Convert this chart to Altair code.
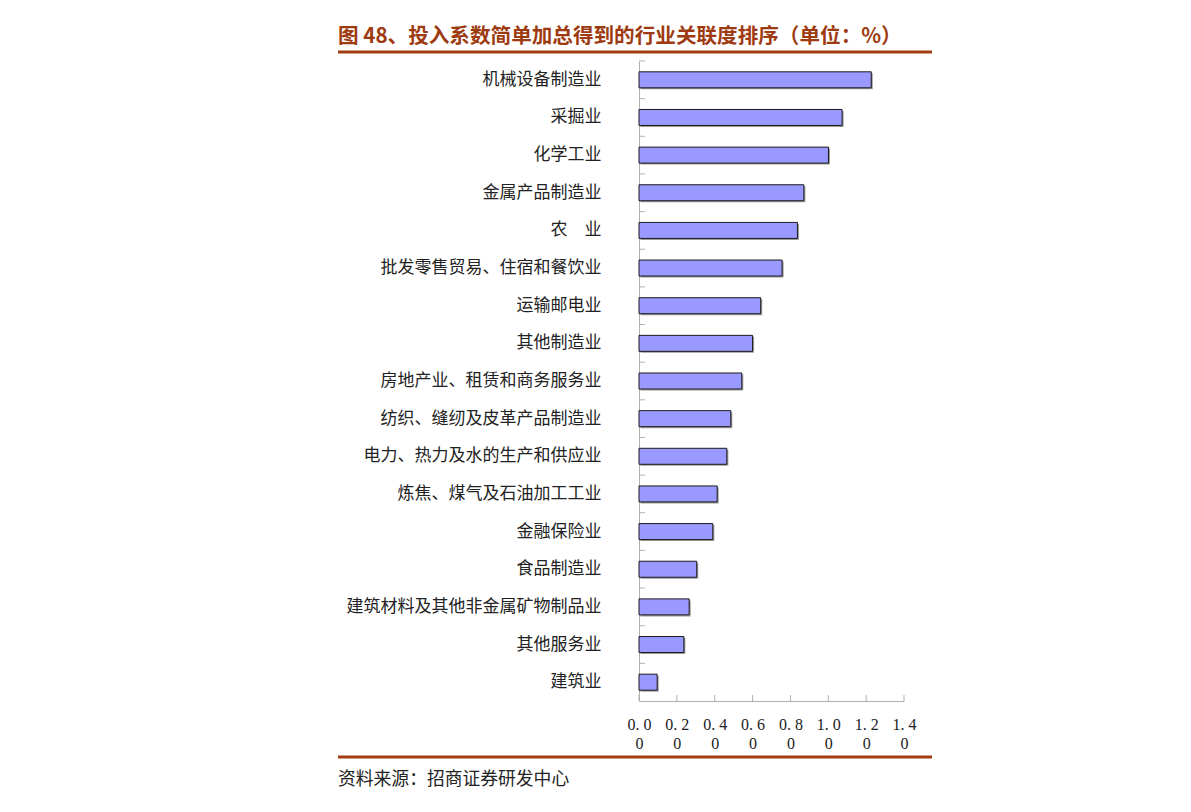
import altair as alt
import pandas as pd

categories = ["机械设备制造业", "采掘业", "化学工业", "金属产品制造业", "农　业",
              "批发零售贸易、住宿和餐饮业", "运输邮电业", "其他制造业",
              "房地产业、租赁和商务服务业", "纺织、缝纫及皮革产品制造业",
              "电力、热力及水的生产和供应业", "炼焦、煤气及石油加工工业",
              "金融保险业", "食品制造业", "建筑材料及其他非金属矿物制品业",
              "其他服务业", "建筑业"]
values = [1.227, 1.073, 1.001, 0.871, 0.837, 0.756, 0.643, 0.600, 0.543,
          0.485, 0.464, 0.413, 0.390, 0.305, 0.265, 0.237, 0.096]
x_ticks = [0.0, 0.2, 0.4, 0.6, 0.8, 1.0, 1.2, 1.4]
title_text = "图 48、投入系数简单加总得到的行业关联度排序（单位：%）"
source_text = "资料来源：招商证券研发中心"

df = pd.DataFrame({"cat": categories, "val": values})
ticks_df = pd.DataFrame({"t": x_ticks})

CJK = "Noto Sans CJK SC"
BROWN = "#A23C12"

xscale = alt.Scale(domain=[0, 1.4], nice=False, zero=True)
yscale = alt.Scale(domain=categories, paddingInner=0, paddingOuter=0)

x_axis = alt.Axis(values=x_ticks, ticks=False, tickSize=0, grid=False,
                  domainColor="#b0b0b0", domainWidth=1,
                  labelExpr="[replace(format(datum.value, '.1f'), '.', '. '), '0']",
                  labelFont="Liberation Serif", labelFontSize=16, labelColor="#222",
                  labelLineHeight=19, labelPadding=15, labelAngle=0,
                  labelOverlap=False, labelFlush=False, labelAlign="center",
                  labelBound=False)
y_axis = alt.Axis(ticks=False, tickSize=0, domainColor="#b0b0b0", domainWidth=1,
                  labelFont=CJK, labelFontSize=17, labelColor="#222",
                  labelPadding=38, labelLimit=400, labelOverlap=False)

shadow = alt.Chart(df).mark_bar(size=16, color="#9a9a9a", xOffset=1.5, yOffset=1.5).encode(
    x=alt.X("val:Q", scale=xscale, title=None, axis=x_axis),
    y=alt.Y("cat:N", scale=yscale, sort=categories, title=None, axis=y_axis),
)

bars = alt.Chart(df).mark_bar(size=16, fill="#9999FF", stroke="#1a1a1a", strokeWidth=1).encode(
    x=alt.X("val:Q", scale=xscale, title=None, axis=x_axis),
    y=alt.Y("cat:N", scale=yscale, sort=categories, title=None, axis=y_axis),
)

ytick = alt.Chart(df).mark_rule(color="#b0b0b0", strokeWidth=1).encode(
    y=alt.Y("cat:N", scale=yscale, sort=categories, bandPosition=0, title=None, axis=y_axis),
    x=alt.value(0), x2=alt.value(6),
)

xtick = alt.Chart(ticks_df).mark_rule(color="#b0b0b0", strokeWidth=1).encode(
    x=alt.X("t:Q", scale=xscale, title=None, axis=x_axis),
    y=alt.value(640), y2=alt.value(634),
)

title = alt.Chart(pd.DataFrame({"t": [title_text]})).mark_text(
    align="left", baseline="middle", font=CJK, fontSize=20.6, fontWeight="bold", color="#9E3A10"
).encode(x=alt.value(-301), y=alt.value(-24), text="t:N")

top_line = alt.Chart(pd.DataFrame({"a": [0]})).mark_rule(color=BROWN, strokeWidth=3).encode(
    x=alt.value(-301), x2=alt.value(293), y=alt.value(-9))

bottom_line = alt.Chart(pd.DataFrame({"a": [0]})).mark_rule(color=BROWN, strokeWidth=3).encode(
    x=alt.value(-301), x2=alt.value(293), y=alt.value(696))

source = alt.Chart(pd.DataFrame({"t": [source_text]})).mark_text(
    align="left", baseline="middle", font=CJK, fontSize=17.8, color="#222"
).encode(x=alt.value(-301), y=alt.value(719), text="t:N")

chart = alt.layer(shadow, bars, ytick, xtick, title, top_line, bottom_line, source).properties(
    width=265, height=640,
    autosize=alt.AutoSizeParams(type="none"),
    padding={"left": 631, "top": 53, "right": 40, "bottom": 90},
    background="white",
).configure_view(stroke=None, strokeWidth=0)

chart.save("out.html", embed_options={"renderer": "svg", "actions": False})
